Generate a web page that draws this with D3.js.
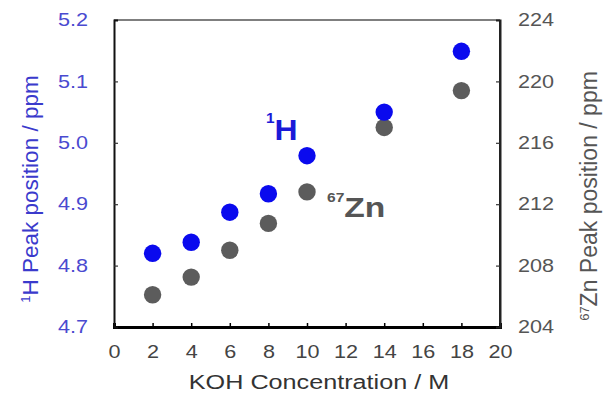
<!DOCTYPE html>
<html><head><meta charset="utf-8">
<script src="https://cdn.jsdelivr.net/npm/d3@7"></script>
<style>body{margin:0;background:#fff}svg{display:block;font-family:"Liberation Sans",Arial,sans-serif}</style>
</head><body><svg id="c" width="608" height="396"></svg>
<script>
const koh = [2, 4, 6, 8, 10, 14, 18];
const hPeak = [4.820, 4.838, 4.887, 4.917, 4.979, 5.050, 5.149];
const znPeak = [206.1, 207.25, 209.0, 210.75, 212.8, 217.0, 219.4];
const xTicks = [0, 2, 4, 6, 8, 10, 12, 14, 16, 18, 20];
const hTicks = [4.7, 4.8, 4.9, 5.0, 5.1, 5.2];
const znTicks = [204, 208, 212, 216, 220, 224];

const SX = 1.2; // horizontal stretch of horizontal texts
const svg = d3.select("#c");
const L = 114, R = 500, T = 20, B = 327;
const x = d3.scaleLinear().domain([0, 20]).range([L, R]);
const yH = d3.scaleLinear().domain([4.7, 5.2]).range([B, T]);
const yZ = d3.scaleLinear().domain([204, 224]).range([B, T]);

// frame
svg.append("line").attr("x1", L).attr("x2", R).attr("y1", T).attr("y2", T).attr("stroke", "#555").attr("stroke-width", 1.5);
svg.append("line").attr("x1", R).attr("x2", R).attr("y1", T).attr("y2", B).attr("stroke", "#222").attr("stroke-width", 2);

// x axis
const xa = svg.append("g").attr("transform", `translate(0,${B})`)
  .call(d3.axisBottom(x).tickValues(xTicks).tickSize(-4).tickPadding(18).tickFormat(d3.format("d")));
xa.select(".domain").attr("stroke", "#000").attr("stroke-width", 3);
xa.selectAll(".tick line").attr("stroke", "#000").attr("stroke-width", 1.5)
  .attr("display", (d) => (d === 0 || d === 20) ? "none" : null);
xa.selectAll("text").attr("font-size", 18).attr("fill", "#444").attr("font-family", "Liberation Sans, Arial, sans-serif")
  .attr("transform", `scale(${SX},1)`);

// left axis
const lPad = 26;
const la = svg.append("g").attr("transform", `translate(${L},0)`)
  .call(d3.axisLeft(yH).tickValues(hTicks).tickSize(-4).tickPadding(lPad / SX).tickFormat(d3.format(".1f")));
la.select(".domain").attr("stroke", "#111").attr("stroke-width", 2);
la.selectAll(".tick line").attr("stroke", "#333").attr("stroke-width", 1.2)
  .attr("display", (d) => (d === 4.7 || d === 5.2) ? "none" : null);
la.selectAll("text").attr("font-size", 18).attr("fill", "#4a4ad0").attr("font-family", "Liberation Sans, Arial, sans-serif")
  .attr("transform", `scale(${SX},1)`);

// right axis
const rPad = 18;
const ra = svg.append("g").attr("transform", `translate(${R},0)`)
  .call(d3.axisRight(yZ).tickValues(znTicks).tickSize(-4).tickPadding(rPad / SX));
ra.select(".domain").attr("stroke", "#222").attr("stroke-width", 2);
ra.selectAll(".tick line").attr("stroke", "#333").attr("stroke-width", 1.2)
  .attr("display", (d) => (d === 204 || d === 224) ? "none" : null);
ra.selectAll("text").attr("font-size", 18).attr("fill", "#555").attr("font-family", "Liberation Sans, Arial, sans-serif")
  .attr("transform", `scale(${SX},1)`);

// points
const pts = koh.map((k, i) => ({k, h: hPeak[i], z: znPeak[i]}));
svg.append("g").selectAll("circle").data(pts).join("circle")
  .attr("cx", d => x(d.k)).attr("cy", d => yZ(d.z)).attr("r", 8.7).attr("fill", "#5c5c5c");
svg.append("g").selectAll("circle").data(pts).join("circle")
  .attr("cx", d => x(d.k)).attr("cy", d => yH(d.h)).attr("r", 8.7).attr("fill", "#0a0aee");

// series labels
const t1 = svg.append("g").attr("transform", `translate(266,140) scale(1.1,1)`)
  .append("text").attr("fill", "#1a1ad8").attr("font-size", 29).attr("font-weight", "bold");
t1.append("tspan").attr("font-size", 14).attr("dy", -17).text("1");
t1.append("tspan").attr("dy", 17).text("H");
const t2 = svg.append("g").attr("transform", `translate(327,217) scale(${SX},1)`)
  .append("text").attr("fill", "#555").attr("font-size", 28).attr("font-weight", "bold");
t2.append("tspan").attr("font-size", 13).attr("dy", -15).text("67");
t2.append("tspan").attr("dy", 15).text("Zn");

// axis titles
svg.append("g").attr("transform", `translate(319,389) scale(${SX},1)`)
  .append("text").attr("text-anchor", "middle")
  .attr("font-size", 21).attr("fill", "#333").text("KOH Concentration / M");
const lt = svg.append("text").attr("transform", `translate(38,189) rotate(-90)`)
  .attr("text-anchor", "middle").attr("font-size", 22.5).attr("fill", "#3a3acc");
lt.append("tspan").attr("font-size", 13).attr("dy", -8).text("1");
lt.append("tspan").attr("dy", 8).text("H Peak position / ppm");
const rt = svg.append("text").attr("transform", `translate(597,196) rotate(-90)`)
  .attr("text-anchor", "middle").attr("font-size", 23).attr("fill", "#555");
rt.append("tspan").attr("font-size", 13).attr("dy", -8).text("67");
rt.append("tspan").attr("dy", 8).text("Zn Peak position / ppm");
</script></body></html>
